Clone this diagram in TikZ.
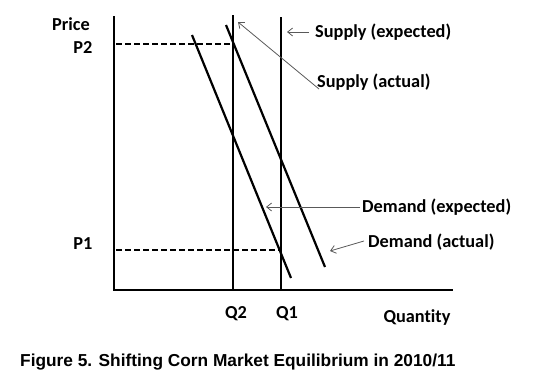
\documentclass[tikz,border=0pt]{standalone}
\usepackage{fontspec}
\setmainfont[Ligatures={NoCommon}]{Carlito}
\newfontfamily\capfont{Liberation Sans}
\usetikzlibrary{arrows.meta}
\begin{document}
\begin{tikzpicture}[x=1pt,y=-1pt,
  axis/.style={line width=2.2pt},
  curve/.style={line width=2.2pt},
  guide/.style={line width=2.2pt,dash pattern=on 6pt off 3pt},
  pointer/.style={draw=black!65,line width=0.8pt,-{Straight Barb[length=5pt,width=8pt]}},
  lbl/.style={font=\fontsize{18.3}{21}\selectfont\bfseries,inner sep=0pt},
  captext/.style={font=\capfont\fontsize{17.3}{20}\selectfont\bfseries,inner sep=0pt,anchor=west}]
\useasboundingbox (0,0) rectangle (550,388);
% axes
\coordinate (O) at (114,290);
\coordinate (ytop) at (114,16);
\coordinate (xend) at (453,290);
\draw[axis] (ytop) -- (O) -- (xend);
% supply lines
\coordinate (s2top) at (233,15);
\coordinate (s2bot) at (233,290);
\coordinate (s1top) at (281,17);
\coordinate (s1bot) at (281,290);
\draw[curve] (s2top) -- (s2bot);
\draw[curve] (s1top) -- (s1bot);
% demand lines
\coordinate (deTop) at (192,35);
\coordinate (deBot) at (291,278);
\coordinate (daTop) at (226,25);
\coordinate (daBot) at (325,267);
\draw[curve] (deTop) -- (deBot);
\draw[curve] (daTop) -- (daBot);
% price guides
\coordinate (p2a) at (116,44);
\coordinate (p2b) at (233,44);
\coordinate (p1a) at (116,250);
\coordinate (p1b) at (281,250);
\draw[guide] (p2a) -- (p2b);
\draw[guide] (p1a) -- (p1b);
% axis labels
\node[lbl] (price) at (71,24) {Price};
\node[lbl] (P2) at (83,47) {P2};
\node[lbl] (P1) at (83,244) {P1};
\node[lbl] (Q2) at (236,314) {Q2};
\node[lbl] (Q1) at (287,314) {Q1};
\node[lbl] (qty) at (417,318) {Quantity};
% curve labels
\node[lbl,anchor=west] (se) at (315,32) {Supply (expected)};
\node[lbl,anchor=west] (sa) at (317,82) {Supply (actual)};
\node[lbl,anchor=west] (de) at (362,207) {Demand (expected)};
\node[lbl,anchor=west] (da) at (368,242) {Demand (actual)};
% pointers
\coordinate (seTip) at (287,32);
\coordinate (saTip) at (238,22);
\coordinate (deTip) at (266,207);
\coordinate (daTip) at (330,251);
\draw[pointer] ([xshift=-6pt]se.west) -- (seTip);
\draw[pointer] ([xshift=2pt,yshift=-7pt]sa.west) -- (saTip);
\draw[pointer] ([xshift=-2pt]de.west) -- (deTip);
\draw[pointer] ([xshift=-4pt,yshift=1pt]da.west) -- (daTip);
% caption
\node[captext] (caption) at (20,362) {Figure 5. Shifting Corn Market Equilibrium in 2010/11};
\end{tikzpicture}
\end{document}
